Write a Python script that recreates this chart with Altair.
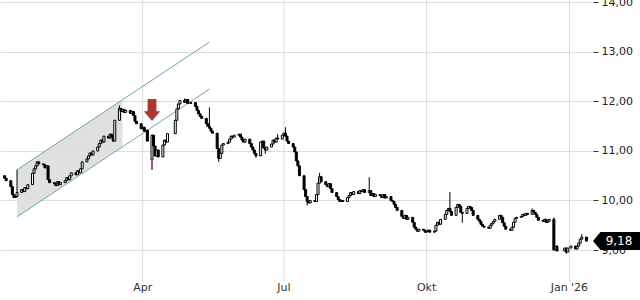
import altair as alt
import pandas as pd

# ---------------- data ----------------
HOLIDAYS = ["2025-01-01", "2025-04-18", "2025-04-21", "2025-05-01",
            "2025-12-25", "2025-12-26", "2026-01-01"]

close_jan = [10.45, 10.40, 10.28, 10.12, 10.06, 10.08, 10.16, 10.22, 10.18, 10.26, 10.24,
             10.32, 10.55, 10.64, 10.70, 10.78, 10.74, 10.72, 10.66, 10.70, 10.42, 10.36]
close_feb = [10.34, 10.30, 10.38, 10.32, 10.36, 10.40, 10.46, 10.42, 10.50, 10.56,
             10.52, 10.60, 10.56, 10.64, 10.78, 10.84, 10.90, 10.96, 10.92, 11.00]
close_mar = [11.08, 11.15, 11.22, 11.18, 11.30, 11.26, 11.34, 11.28, 11.20, 11.62, 11.86,
             11.80, 11.84, 11.78, 11.82, 11.76, 11.80, 11.72, 11.60, 11.55, 11.45]
close_apr = [11.48, 11.40, 11.42, 11.20, 11.32, 11.10, 10.90, 11.02, 10.88, 11.12,
             11.22, 11.18, 11.35, 11.62, 11.85, 11.95, 12.02, 11.98, 12.04, 11.96]
close_may = [11.98, 11.90, 11.82, 11.75, 11.70, 11.66, 11.55, 11.50, 11.46, 11.40, 11.36,
             11.05, 10.85, 10.95, 11.12, 11.15, 11.18, 11.24, 11.30, 11.28, 11.32]
close_jun = [11.34, 11.28, 11.22, 11.18, 11.24, 11.15, 11.08, 11.02, 10.95, 10.90, 11.18,
             11.20, 11.06, 11.02, 11.08, 11.14, 11.22, 11.18, 11.26, 11.24, 11.32]
close_jul = [11.36, 11.30, 11.20, 11.15, 11.08, 10.98, 10.80, 10.70, 10.50, 10.22, 10.08, 9.98,
             9.95, 10.00, 9.98, 10.12, 10.35, 10.48, 10.38, 10.32, 10.28, 10.34, 10.24]
close_aug = [10.16, 10.08, 10.02, 9.98, 10.00, 9.98, 10.06, 10.10, 10.16, 10.12, 10.18,
             10.14, 10.20, 10.18, 10.22, 10.16, 10.20, 10.10, 10.14, 10.08, 10.12]
close_sep = [10.10, 10.06, 10.12, 10.05, 10.08, 10.00, 9.98, 9.92, 9.86, 9.80, 9.68,
             9.64, 9.70, 9.62, 9.66, 9.56, 9.46, 9.42, 9.38, 9.42, 9.40, 9.36]
close_oct = [9.38, 9.40, 9.36, 9.38, 9.50, 9.56, 9.52, 9.62, 9.72, 9.80, 9.84, 9.78,
             9.70, 9.86, 9.92, 9.88, 9.76, 9.74, 9.84, 9.88, 9.86, 9.80, 9.70]
close_nov = [9.62, 9.58, 9.52, 9.48, 9.46, 9.44, 9.50, 9.54, 9.58, 9.62,
             9.70, 9.66, 9.55, 9.48, 9.42, 9.40, 9.46, 9.56, 9.64, 9.66]
close_dec = [9.68, 9.72, 9.70, 9.74, 9.72, 9.80, 9.76, 9.72, 9.66, 9.60, 9.58,
             9.62, 9.56, 9.58, 9.62, 9.00, 9.08, 8.98, 9.04, 8.96, 9.04]
close_jan26 = [9.08, 9.02, 9.08, 9.14, 9.22, 9.26, 9.18]

FIRST_OPEN = 10.50
open_overrides = {"2025-04-07": 10.82}
high_overrides = {"2025-01-10": 10.62, "2025-03-17": 11.92, "2025-04-28": 12.06,
                  "2025-05-14": 11.88, "2025-06-27": 11.34, "2025-07-02": 11.48,
                  "2025-07-24": 10.56, "2025-08-25": 10.47, "2025-10-16": 10.17,
                  "2025-12-08": 9.84, "2025-12-22": 9.66, "2026-01-09": 9.32}
low_overrides = {"2025-04-07": 10.62, "2025-05-20": 10.78, "2025-06-13": 10.86,
                 "2025-06-19": 10.94, "2025-07-16": 9.90, "2025-10-24": 9.55,
                 "2025-12-30": 8.92}

# trend channel
channel_dates = ["2025-01-10", "2025-05-14"]
channel_upper = [10.62, 13.20]
channel_lower = [9.67, 12.25]
shade_dates = ["2025-01-10", "2025-03-19"]
shade_top = [10.62, 12.04]
shade_bottom = [9.67, 11.09]

# signal arrow
arrow_date = ["2025-04-07"]
arrow_price = [11.83]

# x labels
tick_dates = ["2025-04-01", "2025-07-01", "2025-10-01", "2026-01-01"]
tick_labels = ["Apr", "Jul", "Okt", "Jan '26"]
y_ticks = [9, 10, 11, 12, 13, 14]

# ---------------- build tables ----------------
closes = (close_jan + close_feb + close_mar + close_apr + close_may + close_jun + close_jul
          + close_aug + close_sep + close_oct + close_nov + close_dec + close_jan26)
dates = [d.strftime("%Y-%m-%d") for d in pd.bdate_range("2025-01-02", "2026-01-12")
         if d.strftime("%Y-%m-%d") not in HOLIDAYS]
assert len(dates) == len(closes), (len(dates), len(closes))

rows = []
prev = FIRST_OPEN
for ds, c in zip(dates, closes):
    o = open_overrides.get(ds, prev)
    rows.append(dict(date=ds, open=o, close=c,
                     high=high_overrides.get(ds, max(o, c)),
                     low=low_overrides.get(ds, min(o, c)),
                     up=bool(c >= o)))
    prev = c
df = pd.DataFrame(rows)
last = df.tail(1).copy()

chan = pd.DataFrame({"date": channel_dates * 2,
                     "price": channel_upper + channel_lower,
                     "line": ["upper"] * 2 + ["lower"] * 2})
shade = pd.DataFrame({"date": shade_dates, "top": shade_top, "bottom": shade_bottom})
arrow = pd.DataFrame({"date": arrow_date, "price": arrow_price})
sig = df[df["date"] == "2025-04-07"].copy()
ticks = pd.DataFrame({"date": tick_dates, "label": tick_labels})

# ---------------- scales / axes ----------------
FONT = "DejaVu Sans"
XS = alt.Scale(domain=[alt.DateTime(year=2025, month=1, date=2, hours=6, utc=True),
                       alt.DateTime(year=2026, month=1, date=13, utc=True)])
YS = alt.Scale(domain=[7.99, 14.05], zero=False, nice=False)
YAX = alt.Axis(orient="right", values=y_ticks, title=None, domain=False,
               labelExpr="replace(format(datum.value, '.2f'), '.', ',')",
               tickSize=5, tickColor="#333333", labelColor="#222222",
               labelFont=FONT, labelFontSize=11, labelPadding=3,
               gridColor="#dddddd", gridWidth=1)


def X(field="date"):
    return alt.X(f"{field}:T", scale=XS, axis=None)


def Y(field):
    return alt.Y(f"{field}:Q", scale=YS, axis=YAX)


vgrid = alt.Chart(ticks).mark_rule(color="#dddddd", strokeWidth=1).encode(
    x=X(), y=alt.value(0), y2=alt.value(282))
xlabels = alt.Chart(ticks).mark_text(font=FONT, fontSize=11, color="#333333",
                                     baseline="middle").encode(
    x=X(), y=alt.value(288), text="label:N")

shade_l = alt.Chart(shade).mark_area(color="#dedede", opacity=0.95).encode(
    x=X(), y=Y("top"), y2="bottom:Q")
chan_l = alt.Chart(chan).mark_line(color="#6aa6ae", strokeWidth=1).encode(
    x=X(), y=Y("price"), detail="line:N")

wicks = alt.Chart(df).mark_rule(color="black", strokeWidth=1).encode(
    x=X(), y=Y("low"), y2="high:Q")
bodies = alt.Chart(df).mark_bar(size=2, stroke="black", strokeWidth=1).encode(
    x=X(), y=Y("open"), y2="close:Q",
    fill=alt.condition("datum.up", alt.value("white"), alt.value("black")))
sig_l = alt.Chart(sig).mark_rule(color="#c0504d", strokeWidth=2, opacity=0.75).encode(
    x=X(), y=Y("low"), y2="open:Q")

ARROW = "M -0.4 -1 L 0.4 -1 L 0.4 0.12 L 0.75 0.12 L 0 1 L -0.75 0.12 L -0.4 0.12 Z"
arrow_l = alt.Chart(arrow).mark_point(shape=ARROW, filled=True, size=484,
                                      color="#a83a32", opacity=1).encode(
    x=X(), y=Y("price"))

BADGE = "M -1 0 L -0.68 -0.383 L 1 -0.383 L 1 0.383 L -0.68 0.383 Z"
badge = alt.Chart(last).mark_point(shape=BADGE, filled=True, size=2209,
                                   color="black", opacity=1).encode(
    x=alt.value(616.5), y=Y("close"))
badge_text = alt.Chart(last).transform_calculate(
    lbl="replace(format(datum.close, '.2f'), '.', ',')"
).mark_text(font=FONT, fontSize=12, color="white", align="center",
            baseline="middle").encode(
    x=alt.value(619), y=Y("close"), text="lbl:N")

chart = alt.layer(
    vgrid, xlabels, shade_l, chan_l, wicks, bodies, sig_l, arrow_l, badge, badge_text
).properties(
    width=593, height=300,
    autosize=alt.AutoSizeParams(type="none"),
    padding={"left": 0, "top": 0, "right": 47, "bottom": 0},
    background="white",
).configure_view(stroke=None)

chart.save("out.html", embed_options={"renderer": "svg", "actions": False})
